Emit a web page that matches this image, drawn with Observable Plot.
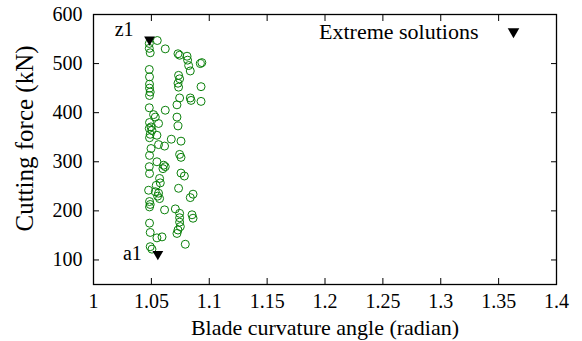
<!DOCTYPE html>
<html><head><meta charset="utf-8">
<script src="https://cdn.jsdelivr.net/npm/d3@7"></script>
<script src="https://cdn.jsdelivr.net/npm/@observablehq/plot@0.6"></script>
<style>body{margin:0;background:#fff}</style>
</head><body><div id="chart"></div>
<script>
const curvature = [1.0551, 1.0482, 1.0482, 1.049, 1.062, 1.073, 1.0744, 1.0808, 1.0813, 1.0822,
  1.0836, 1.0923, 1.0936, 1.0482, 1.0484, 1.0484, 1.0735, 1.0744, 1.073, 1.0929,
  1.0484, 1.049, 1.0484, 1.0735,
  1.0744, 1.0836, 1.0843, 1.0929, 1.0721, 1.0482, 1.062, 1.0519, 1.0534, 1.0562,
  1.0721, 1.073, 1.0484, 1.0497, 1.0482, 1.0505, 1.049, 1.0484, 1.0548, 1.0672,
  1.0756, 1.0562, 1.0614, 1.0497, 1.0484, 1.0744, 1.0756, 1.0548, 1.0482, 1.0484,
  1.0606, 1.062, 1.06, 1.0756, 1.0785, 1.0571, 1.0577, 1.0542, 1.0476, 1.0534,
  1.0562, 1.0554, 1.0735, 1.086, 1.0836, 1.0484, 1.049, 1.0484, 1.0571, 1.0614,
  1.0707, 1.0744, 1.0744, 1.0744, 1.075, 1.073, 1.0721, 1.0851, 1.086, 1.0484,
  1.049, 1.0548, 1.0592, 1.0793, 1.049, 1.0505];
const force = [547, 541, 531, 522, 530, 520, 517, 515, 507, 496,
  485, 500, 502, 488, 473, 458, 476, 469, 460, 453,
  450, 442, 435, 452,
  430, 430, 425, 423, 416, 410, 405, 396, 391, 378,
  391, 373, 380, 371, 368, 364, 356, 349, 354, 346,
  342, 335, 332, 327, 313, 315, 309, 300, 290, 276,
  293, 290, 286, 277, 271, 266, 257, 252, 242, 239,
  236, 230, 246, 234, 227, 219, 213, 208, 225, 202,
  204, 195, 186, 177, 168, 161, 154, 192, 185, 175,
  156, 145, 147, 132, 127, 122];
const extremeLabels = ["z1", "a1"];
const extremeCurvature = [1.0484, 1.0556];
const extremeForce = [549, 112];
const xTicks = [1, 1.05, 1.1, 1.15, 1.2, 1.25, 1.3, 1.35, 1.4];
const yTicks = [100, 200, 300, 400, 500, 600];
const legendLabel = "Extreme solutions";
const xLabel = "Blade curvature angle (radian)";
const yLabel = "Cutting force (kN)";

const points = curvature.map((c, i) => ({x: c, y: force[i]}));
const extremes = extremeLabels.map((l, i) => ({label: l, x: extremeCurvature[i], y: extremeForce[i]}));
const FONT = "Liberation Serif";

const chart = Plot.plot({
  width: 582,
  height: 341,
  marginLeft: 93,
  marginRight: 26,
  marginTop: 14,
  marginBottom: 57,
  style: {fontFamily: FONT, fontSize: "20px", background: "white"},
  x: {domain: [1, 1.4], axis: null},
  y: {domain: [50, 600], axis: null},
  marks: [
    // tick labels
    Plot.text(xTicks, {x: d => d, text: d => String(d), frameAnchor: "bottom", textAnchor: "middle", lineAnchor: "middle", dy: 17, fontSize: 20, fontFamily: FONT, fill: "black"}),
    Plot.text(yTicks, {y: d => d, text: d => String(d), frameAnchor: "left", textAnchor: "end", lineAnchor: "middle", dx: -11, fontSize: 20, fontFamily: FONT, fill: "black"}),
    // axis titles
    Plot.text([xLabel], {frameAnchor: "bottom", text: d => d, textAnchor: "middle", lineAnchor: "middle", dy: 43, fontSize: 22, fontFamily: FONT, fill: "black"}),
    Plot.text([yLabel], {frameAnchor: "left", text: d => d, rotate: -90, textAnchor: "middle", lineAnchor: "middle", dx: -69, dy: -11, fontSize: 25, fontFamily: FONT, fill: "black"}),
    // inward ticks on all four sides
    Plot.axisX(xTicks, {anchor: "bottom", tickSize: -6, tickFormat: () => "", label: null}),
    Plot.axisX(xTicks, {anchor: "top", tickSize: -6, tickFormat: () => "", label: null}),
    Plot.axisY(yTicks, {anchor: "left", tickSize: -6, tickFormat: () => "", label: null}),
    Plot.axisY(yTicks, {anchor: "right", tickSize: -6, tickFormat: () => "", label: null}),
    Plot.frame({stroke: "black", strokeWidth: 1.3}),
    Plot.dot(points, {x: "x", y: "y", r: 4, stroke: "#0a800a", strokeWidth: 1}),
    Plot.dot(extremes, {x: "x", y: "y", symbol: "triangle", rotate: 180, fill: "black", r: 4}),
    Plot.text(extremes.filter(d => d.label === "z1"), {x: "x", y: "y", text: "label", textAnchor: "end", dx: -16, dy: -10, fill: "black", fontSize: 20, fontFamily: FONT}),
    Plot.text(extremes.filter(d => d.label === "a1"), {x: "x", y: "y", text: "label", textAnchor: "end", dx: -16, dy: 0, fill: "black", fontSize: 20, fontFamily: FONT}),
    Plot.text([legendLabel], {frameAnchor: "top-right", text: d => d, textAnchor: "end", lineAnchor: "middle", dx: -78, dy: 17, fontSize: 22, fill: "black", fontFamily: FONT}),
    Plot.dot([legendLabel], {frameAnchor: "top-right", dx: -43, dy: 17, symbol: "triangle", rotate: 180, fill: "black", r: 4.3})
  ]
});
chart.setAttribute("font-family", FONT);
chart.querySelectorAll("g, text").forEach(el => el.setAttribute("font-family", FONT));
document.getElementById("chart").appendChild(chart);
</script>
</body></html>
